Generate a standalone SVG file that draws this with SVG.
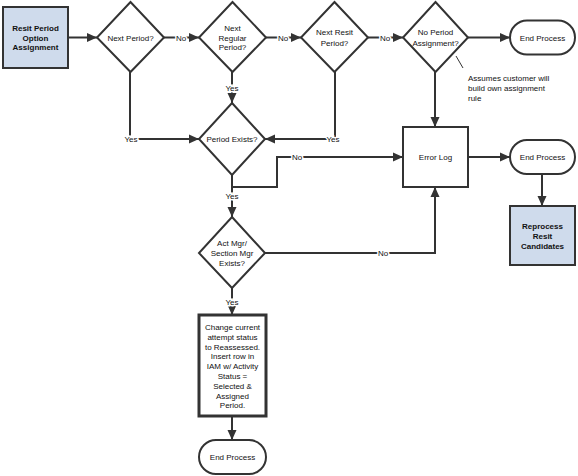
<svg xmlns="http://www.w3.org/2000/svg" width="578" height="476" viewBox="0 0 578 476">
<defs>
<marker id="arr" markerUnits="userSpaceOnUse" markerWidth="11" markerHeight="10" refX="10" refY="5" orient="auto">
<path d="M0,0.5 L10,5 L0,9.5 z" fill="#333"/>
</marker>
<style>
.n{fill:#fff;stroke:#333;stroke-width:2}
.b{fill:#cfdbec;stroke:#333;stroke-width:2}
.t{font-family:"Liberation Sans",Arial,sans-serif;font-size:8px;fill:#111;text-anchor:middle}
.bt{font-weight:bold}
.c{fill:none;stroke:#333;stroke-width:2;marker-end:url(#arr)}
.p{fill:none;stroke:#333;stroke-width:2}
.l{font-family:"Liberation Sans",Arial,sans-serif;font-size:8px;fill:#111;text-anchor:middle;paint-order:stroke;stroke:#fff;stroke-width:3px}
</style>
</defs>
<rect width="578" height="476" fill="#fff"/>
<g id="connectors">
<path class="c" d="M68,37.5 H97"/>
<path class="c" d="M164,37.5 H199"/>
<path class="c" d="M266,37.5 H301"/>
<path class="c" d="M368,37.5 H403"/>
<path class="c" d="M468,37.5 H510"/>
<path class="c" d="M130,72 V139 H199"/>
<path class="c" d="M232,72 V103"/>
<path class="c" d="M335,72 V139 H265"/>
<path class="c" d="M435,72 V127"/>
<path class="c" d="M232,175 V187 H277 V157 H403"/>
<path class="c" d="M232,175 V217"/>
<path class="c" d="M265,253 H435 V187"/>
<path class="c" d="M468,157 H510"/>
<path class="c" d="M542,174 V206"/>
<path class="c" d="M232,288 V315"/>
<path class="c" d="M232,416 V440"/>
<path d="M456,56 L463,68" fill="none" stroke="#333" stroke-width="1"/>
<text class="l" x="181" y="40.5">No</text>
<text class="l" x="283" y="40.5">No</text>
<text class="l" x="385" y="40.5">No</text>
<text class="l" x="131" y="142">Yes</text>
<text class="l" x="232" y="91">Yes</text>
<text class="l" x="333" y="142">Yes</text>
<text class="l" x="297" y="160">No</text>
<text class="l" x="232" y="199">Yes</text>
<text class="l" x="383" y="256">No</text>
<text class="l" x="232" y="305">Yes</text>
</g>
<g id="start">
<rect class="b" x="3" y="7" width="65" height="61"/>
<text class="t bt" x="35.5" y="31">Resit Period</text>
<text class="t bt" x="35.5" y="40.5">Option</text>
<text class="t bt" x="35.5" y="50">Assignment</text>
</g>
<g id="next-period">
<polygon class="n" points="130.5,2 164,37.5 130.5,72 97,37.5"/>
<text class="t" x="130.5" y="40.5">Next Period?</text>
</g>
<g id="next-regular">
<polygon class="n" points="232.5,2 266,37.5 232.5,72 199,37.5"/>
<text class="t" x="232.5" y="31">Next</text>
<text class="t" x="232.5" y="40.5">Regular</text>
<text class="t" x="232.5" y="50">Period?</text>
</g>
<g id="next-resit">
<polygon class="n" points="334.5,2 368,37.5 334.5,72 301,37.5"/>
<text class="t" x="334.5" y="35">Next Resit</text>
<text class="t" x="334.5" y="46">Period?</text>
</g>
<g id="no-period">
<polygon class="n" points="435.5,2 468,37.5 435.5,72 403,37.5"/>
<text class="t" x="435.5" y="35">No Period</text>
<text class="t" x="435.5" y="46">Assignment?</text>
</g>
<g id="end1">
<rect class="n" x="510" y="20.5" width="65" height="34" rx="17"/>
<text class="t" x="542.5" y="40.5">End Process</text>
</g>
<g id="note">
<text class="t" style="text-anchor:start" x="468" y="81">Assumes customer will</text>
<text class="t" style="text-anchor:start" x="468" y="91">build own assignment</text>
<text class="t" style="text-anchor:start" x="468" y="101">rule</text>
</g>
<g id="period-exists">
<polygon class="n" points="232,103 265,139 232,175 199,139"/>
<text class="t" x="232" y="142">Period Exists?</text>
</g>
<g id="error-log">
<rect class="n" x="403" y="127" width="65" height="60"/>
<text class="t" x="435.5" y="160">Error Log</text>
</g>
<g id="end2">
<rect class="n" x="510" y="140" width="65" height="34" rx="17"/>
<text class="t" x="542.5" y="160">End Process</text>
</g>
<g id="reprocess">
<rect class="b" x="510" y="206" width="65" height="59"/>
<text class="t bt" x="542.5" y="229">Reprocess</text>
<text class="t bt" x="542.5" y="239">Resit</text>
<text class="t bt" x="542.5" y="248.5">Candidates</text>
</g>
<g id="act-mgr">
<polygon class="n" points="232,217 265,253 232,288 199,253"/>
<text class="t" x="232" y="246">Act Mgr/</text>
<text class="t" x="232" y="256">Section Mgr</text>
<text class="t" x="232" y="265.5">Exists?</text>
</g>
<g id="change-status">
<rect class="n" style="stroke-width:3" x="199" y="315" width="67" height="101"/>
<text class="t" x="232.5" y="330">Change current</text>
<text class="t" x="232.5" y="339.8">attempt status</text>
<text class="t" x="232.5" y="349.6">to Reassessed.</text>
<text class="t" x="232.5" y="359.4">Insert row in</text>
<text class="t" x="232.5" y="369.2">IAM w/ Activity</text>
<text class="t" x="232.5" y="379">Status =</text>
<text class="t" x="232.5" y="388.8">Selected &amp;</text>
<text class="t" x="232.5" y="398.6">Assigned</text>
<text class="t" x="232.5" y="408.4">Period.</text>
</g>
<g id="end3">
<rect class="n" x="199" y="440" width="67" height="34" rx="17"/>
<text class="t" x="232.5" y="460">End Process</text>
</g>
</svg>
